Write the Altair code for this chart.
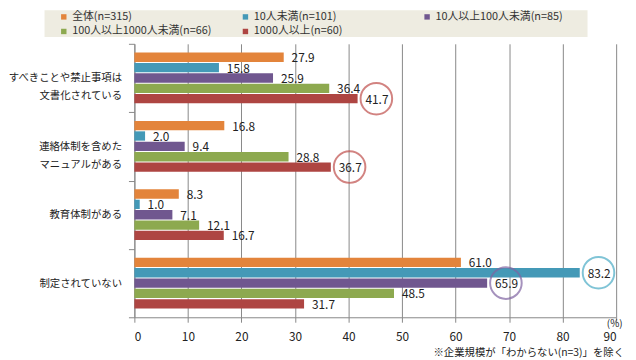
import altair as alt
import pandas as pd

categories = [
    "すべきことや禁止事項は\n文書化されている",
    "連絡体制を含めた\nマニュアルがある",
    "教育体制がある",
    "制定されていない",
]
series = [
    "全体(n=315)",
    "10人未満(n=101)",
    "10人以上100人未満(n=85)",
    "100人以上1000人未満(n=66)",
    "1000人以上(n=60)",
]
v_all = [27.9, 16.8, 8.3, 61.0]
v_lt10 = [15.8, 2.0, 1.0, 83.2]
v_10_100 = [25.9, 9.4, 7.1, 65.9]
v_100_1000 = [36.4, 28.8, 12.1, 48.5]
v_1000 = [41.7, 36.7, 16.7, 31.7]
colors = ["#E3843B", "#4499B7", "#70578F", "#8DA94F", "#AE4542"]
# highlighted (category index, series index) and ring colours
circled = [(0, 4), (1, 4), (3, 1), (3, 2)]
ring_colors = ["#C0504D", "#C0504D", "#4BACC6", "#8064A2"]

values = [v_all, v_lt10, v_10_100, v_100_1000, v_1000]
rows = []
for si, s in enumerate(series):
    for ci, c in enumerate(categories):
        rows.append({"category": c, "series": s, "value": values[si][ci],
                     "label": f"{values[si][ci]:.1f}"})
df = pd.DataFrame(rows)

circ_rows = []
for (ci, si), rc in zip(circled, ring_colors):
    circ_rows.append({"category": categories[ci], "series": series[si],
                      "value": values[si][ci], "ring": rc})
dfc = pd.DataFrame(circ_rows)

FONT = "Noto Sans CJK JP"
GRID = "#878787"

y_enc = alt.Y("category:N", sort=categories,
              scale=alt.Scale(paddingInner=0, paddingOuter=0),
              axis=alt.Axis(title=None, tickBand="extent", tickSize=6,
                            tickColor=GRID, domainColor=GRID,
                            labelExpr="split(datum.label, '\\n')",
                            labelLineHeight=18, labelFontSize=10.5,
                            labelColor="#222", labelPadding=7, grid=False))
yoff = alt.YOffset("series:N", sort=series,
                   scale=alt.Scale(paddingInner=0.1, paddingOuter=0.85))
x_enc = alt.X("value:Q",
              scale=alt.Scale(domain=[0, 90], nice=False),
              axis=alt.Axis(values=list(range(0, 91, 10)), grid=True,
                            gridColor=GRID, domainColor=GRID, tickColor=GRID,
                            tickSize=5, labelFontSize=12, labelColor="#222",
                            labelPadding=10,
                            title="(%)", titleX=494, titleY=1,
                            titleAlign="right", titleFontSize=10,
                            titleFontWeight="normal", titleColor="#222"))

box = alt.Chart(pd.DataFrame({"k": [0]})).mark_rect(color="#EEECE1").encode(
    x=alt.value(-91), x2=alt.value(459), y=alt.value(-34), y2=alt.value(-7))

bars = alt.Chart(df).mark_bar().encode(
    x=x_enc, y=y_enc, yOffset=yoff,
    color=alt.Color("series:N", sort=series,
                    scale=alt.Scale(domain=series, range=colors),
                    legend=alt.Legend(title=None, orient="none", legendX=-77,
                                      legendY=-33, direction="horizontal",
                                      columns=3, symbolType="square",
                                      symbolSize=30, symbolStrokeWidth=0,
                                      labelFontSize=11, labelColor="#333",
                                      columnPadding=28, rowPadding=3,
                                      gridAlign="all", padding=0,
                                      labelOffset=3)))

labels = alt.Chart(df).mark_text(align="left", dx=8, dy=1, fontSize=12,
                                 color="#222").encode(
    x="value:Q", y=alt.Y("category:N", sort=categories), yOffset=yoff,
    text="label:N")

rings = alt.Chart(dfc).mark_point(shape="circle", size=1024, strokeWidth=2,
                                  filled=False, xOffset=19).encode(
    x="value:Q", y=alt.Y("category:N", sort=categories), yOffset=yoff,
    stroke=alt.Stroke("ring:N", scale=None))

note = alt.Chart(pd.DataFrame({"t": ["※企業規模が「わからない(n=3)」を除く"]})).mark_text(
    align="right", fontSize=10.5, color="#222").encode(
    x=alt.value(496), y=alt.value(313), text="t:N")

chart = alt.layer(box, bars, labels, rings, note).properties(
    width=488, height=277,
    autosize=alt.AutoSizeParams(type="none"),
    padding={"left": 128, "top": 34, "right": 12, "bottom": 41},
).configure(font=FONT).configure_view(stroke=None)

chart.save("out.html", embed_options={"renderer": "svg", "actions": False})
